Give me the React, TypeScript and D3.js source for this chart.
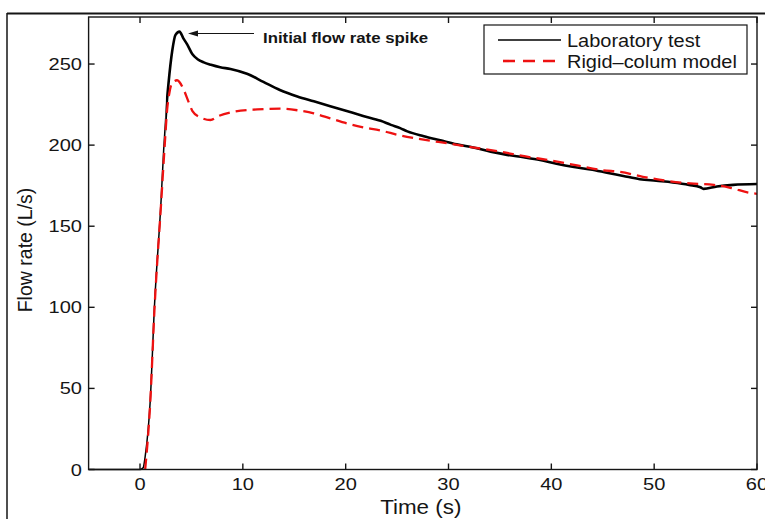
import React, { useEffect, useRef } from 'react';
import * as d3 from 'd3';

// laboratory test (black solid)
const labTime = [-5, -3, -1, 0, 0.3, 0.5, 1.0, 1.4, 2.05, 2.3, 2.55, 2.77, 3.13, 3.45, 3.84, 4.2, 4.6, 5.1, 5.6, 6.2, 6.9, 7.8, 8.8, 10.4, 12.0, 13.6, 15.3, 16.9, 18.5, 20.1, 21.7, 23.4, 24.4, 25.3, 26.0, 27.6, 29.2, 30.8, 32.4, 34.1, 35.7, 37.3, 38.9, 40.5, 42.2, 43.8, 45.4, 47.0, 48.6, 50.2, 51.8, 53.4, 54.5, 54.8, 56.1, 57.7, 60];
const labFlow = [0, 0, 0, 0, 1, 8, 43, 100, 166, 197, 222, 238, 258, 268, 270, 266, 262, 256, 253, 251, 249.5, 248, 247, 244, 239, 234, 230, 227, 224, 221, 218, 215, 212.5, 210.5, 208.5, 205.5, 203, 200.5, 198.5, 196, 194, 192.5, 190.8, 188.5, 186.5, 185, 183, 181, 179, 178, 177, 175.5, 174, 173, 174.5, 175.5, 176];

// rigid-column model (red dashed)
const modelTime = [0.5, 1.0, 1.4, 2.05, 2.4, 2.64, 2.85, 3.1, 3.6, 4.26, 4.7, 5.1, 5.9, 6.85, 7.66, 9.1, 11.4, 13.6, 15.3, 16.9, 18.5, 20.1, 21.7, 23.4, 25.3, 27.0, 30.0, 32.5, 35.0, 37.5, 40.0, 42.5, 45.0, 46.7, 48.9, 51.2, 53.5, 55.8, 57.5, 59.3, 60];
const modelFlow = [0, 42, 98, 164, 200, 222, 232, 238, 240, 234, 227, 221, 217, 215.5, 218, 220.5, 222, 222.5, 221.5, 219.6, 216.5, 213.4, 211, 209, 206, 204, 201, 198.5, 196, 193, 190.5, 187.5, 184.5, 183.5, 180.5, 178, 176.4, 175.5, 173.5, 170.6, 170];

const xTicks = [0, 10, 20, 30, 40, 50, 60];
const yTicks = [0, 50, 100, 150, 200, 250];
const legendNames = ['Laboratory test', 'Rigid\u2013colum model'];

const FONT = '"Liberation Sans", Arial, Helvetica, sans-serif';
const INK = '#151515';

export default function App() {
    const ref = useRef<SVGSVGElement>(null);

    useEffect(() => {
        const svg = d3.select(ref.current);
        svg.selectAll('*').remove();

        const left = 88.6, right = 757, top = 17, bottom = 469.5;
        const x = d3.scaleLinear().domain([-5, 60]).range([left, right]);
        const y = d3.scaleLinear().domain([0, 279]).range([bottom, top]);

        // outer figure frame
        svg.append('line').attr('x1', 7).attr('x2', 765).attr('y1', 13.5).attr('y2', 13.5)
            .attr('stroke', INK).attr('stroke-width', 2);
        svg.append('line').attr('x1', 7).attr('x2', 7).attr('y1', 13).attr('y2', 519)
            .attr('stroke', INK).attr('stroke-width', 1.5);

        const line = d3.line<[number, number]>()
            .x(d => x(d[0]))
            .y(d => y(d[1]))
            .curve(d3.curveMonotoneX);

        const labPts = labTime.map((t, i) => [t, labFlow[i]] as [number, number]);
        const modelPts = modelTime.map((t, i) => [t, modelFlow[i]] as [number, number]);
        const labPath = line(labPts) as string;

        // measured signal is noisy -> thin at rest / rise, heavy once flowing (same path, clipped)
        const split = x(2.5);
        svg.append('clipPath').attr('id', 'restClip').append('rect')
            .attr('x', 0).attr('y', 0).attr('width', split).attr('height', 519);
        svg.append('clipPath').attr('id', 'flowClip').append('rect')
            .attr('x', split).attr('y', 0).attr('width', 765 - split).attr('height', 519);
        svg.append('path').attr('d', labPath).attr('clip-path', 'url(#restClip)')
            .attr('fill', 'none').attr('stroke', '#000').attr('stroke-width', 1.5)
            .attr('stroke-linejoin', 'round');
        svg.append('path').attr('d', labPath).attr('clip-path', 'url(#flowClip)')
            .attr('fill', 'none').attr('stroke', '#000').attr('stroke-width', 2.6)
            .attr('stroke-linejoin', 'round');
        svg.append('path').attr('d', line(modelPts))
            .attr('fill', 'none').attr('stroke', '#ee1111').attr('stroke-width', 2.3)
            .attr('stroke-dasharray', '11,6');

        // plot box
        svg.append('rect').attr('x', left).attr('y', top)
            .attr('width', right - left).attr('height', bottom - top)
            .attr('fill', 'none').attr('stroke', INK).attr('stroke-width', 1.4);

        const tl = 6;
        const g = svg.append('g').attr('stroke', INK).attr('stroke-width', 1.4);
        xTicks.forEach(t => {
            g.append('line').attr('x1', x(t)).attr('x2', x(t)).attr('y1', bottom).attr('y2', bottom - tl);
            g.append('line').attr('x1', x(t)).attr('x2', x(t)).attr('y1', top).attr('y2', top + tl);
        });
        yTicks.forEach(v => {
            g.append('line').attr('x1', left).attr('x2', left + tl).attr('y1', y(v)).attr('y2', y(v));
            g.append('line').attr('x1', right).attr('x2', right - tl).attr('y1', y(v)).attr('y2', y(v));
        });

        const txt = (s: string, tx: number, ty: number, size: number, anchor: string, sx: number, weight = 'normal') =>
            svg.append('text')
                .attr('transform', `translate(${tx},${ty}) scale(${sx},1)`)
                .attr('text-anchor', anchor)
                .attr('font-family', FONT)
                .attr('font-size', size)
                .attr('font-weight', weight)
                .attr('fill', INK)
                .text(s);

        xTicks.forEach(t => txt(String(t), x(t), 490, 17, 'middle', 1.18));
        yTicks.forEach(v => txt(String(v), 82, y(v) + 6, 17, 'end', 1.18));

        txt('Time (s)', x(27.3), 514, 20, 'middle', 1.12);
        svg.append('text')
            .attr('transform', `translate(32,250) rotate(-90)`)
            .attr('text-anchor', 'middle')
            .attr('font-family', FONT)
            .attr('font-size', 19.5)
            .attr('fill', INK)
            .text('Flow rate (L/s)');

        // annotation
        txt('Initial flow rate spike', 263, 43, 15, 'start', 1.12, 'bold');
        svg.append('line').attr('x1', 254).attr('x2', 194).attr('y1', 33.5).attr('y2', 33.5)
            .attr('stroke', INK).attr('stroke-width', 1.2);
        svg.append('path').attr('d', 'M188,33.5 L198,30.5 L198,36.5 Z').attr('fill', INK);

        // legend
        svg.append('rect').attr('x', 484).attr('y', 25).attr('width', 263).attr('height', 49)
            .attr('fill', '#fff').attr('stroke', INK).attr('stroke-width', 1.2);
        svg.append('line').attr('x1', 498).attr('x2', 561).attr('y1', 40).attr('y2', 40)
            .attr('stroke', '#000').attr('stroke-width', 1.3);
        svg.append('line').attr('x1', 503).attr('x2', 561).attr('y1', 61).attr('y2', 61)
            .attr('stroke', '#ee1111').attr('stroke-width', 2.6).attr('stroke-dasharray', '12,8');
        txt(legendNames[0], 567, 46.5, 18.5, 'start', 1.08);
        txt(legendNames[1], 567, 67.5, 18.5, 'start', 1.08);
    }, []);

    return (
        <svg ref={ref} width={765} height={519}
            style={{ position: 'absolute', left: 0, top: 0, background: '#fff' }} />
    );
}
